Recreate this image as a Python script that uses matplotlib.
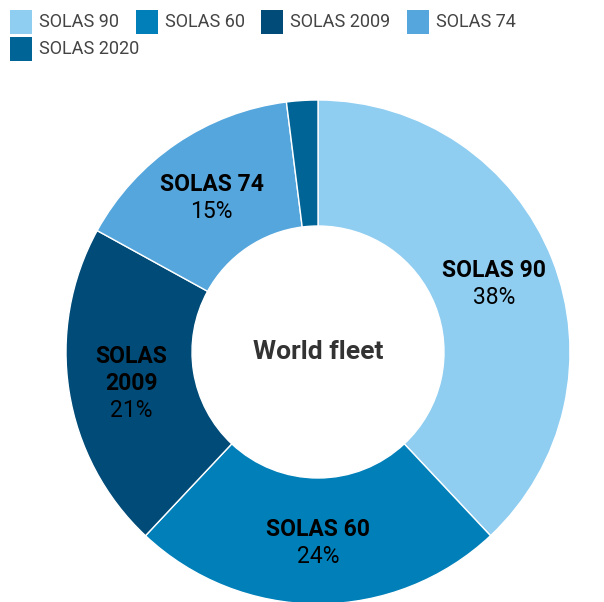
import numpy as np
import matplotlib.pyplot as plt
from matplotlib.patches import Rectangle

plt.rcParams['font.family'] = ['Roboto', 'DejaVu Sans']

labels = ['SOLAS 90', 'SOLAS 60', 'SOLAS 2009', 'SOLAS 74', 'SOLAS 2020']
inner_labels = ['SOLAS 90', 'SOLAS 60', 'SOLAS\n2009', 'SOLAS 74', '']
shares = [38, 24, 21, 15, 2]
colors = ['#8fcdf1', '#007fb9', '#004b77', '#55a6dc', '#006496']

W, H = 604, 602
fig = plt.figure(figsize=(W / 100, H / 100), dpi=100)

# donut centre (318, 352) px, radius 252 px
cx, cy, r = 318, 352, 252
ax = fig.add_axes([(cx - r) / W, (H - cy - r) / H, 2 * r / W, 2 * r / H])
wedges, _ = ax.pie(shares, colors=colors, startangle=90, counterclock=False,
                   radius=1, wedgeprops=dict(width=0.5, edgecolor='white', linewidth=1))
ax.set_xlim(-1, 1)
ax.set_ylim(-1, 1)
ax.set_aspect('equal')
ax.axis('off')

dy = 27 / r
for w, lab, s in zip(wedges, inner_labels, shares):
    if not lab:
        continue
    ang = np.deg2rad((w.theta1 + w.theta2) / 2)
    x, y = 0.75 * np.cos(ang), 0.75 * np.sin(ang) - 2 / r
    lines = lab.split('\n')
    n = len(lines) + 1
    top = y + (n - 1) / 2 * dy
    for i, ln in enumerate(lines):
        ax.text(x, top - i * dy, ln, ha='center', va='center', fontsize=16.5,
                fontweight='bold', color='black')
    ax.text(x, top - len(lines) * dy, f'{s}%', ha='center', va='center',
            fontsize=16.5, color='black')

ax.text(0, 0, 'World fleet', ha='center', va='center', fontsize=19,
        fontweight='bold', color='#333333')

# legend laid out as flowing rows
legend_pos = [(10, 10), (136, 10), (261, 10), (407, 10), (10, 37)]
for lab, col, (px, py) in zip(labels, colors, legend_pos):
    fig.patches.append(Rectangle((px / W, 1 - (py + 24) / H), 22 / W, 24 / H,
                                 transform=fig.transFigure, facecolor=col, edgecolor='none'))
    fig.text((px + 29) / W, 1 - (py + 12) / H, lab, ha='left', va='center',
             fontsize=13, color='#444444')

fig.savefig('out.png', dpi=100)
